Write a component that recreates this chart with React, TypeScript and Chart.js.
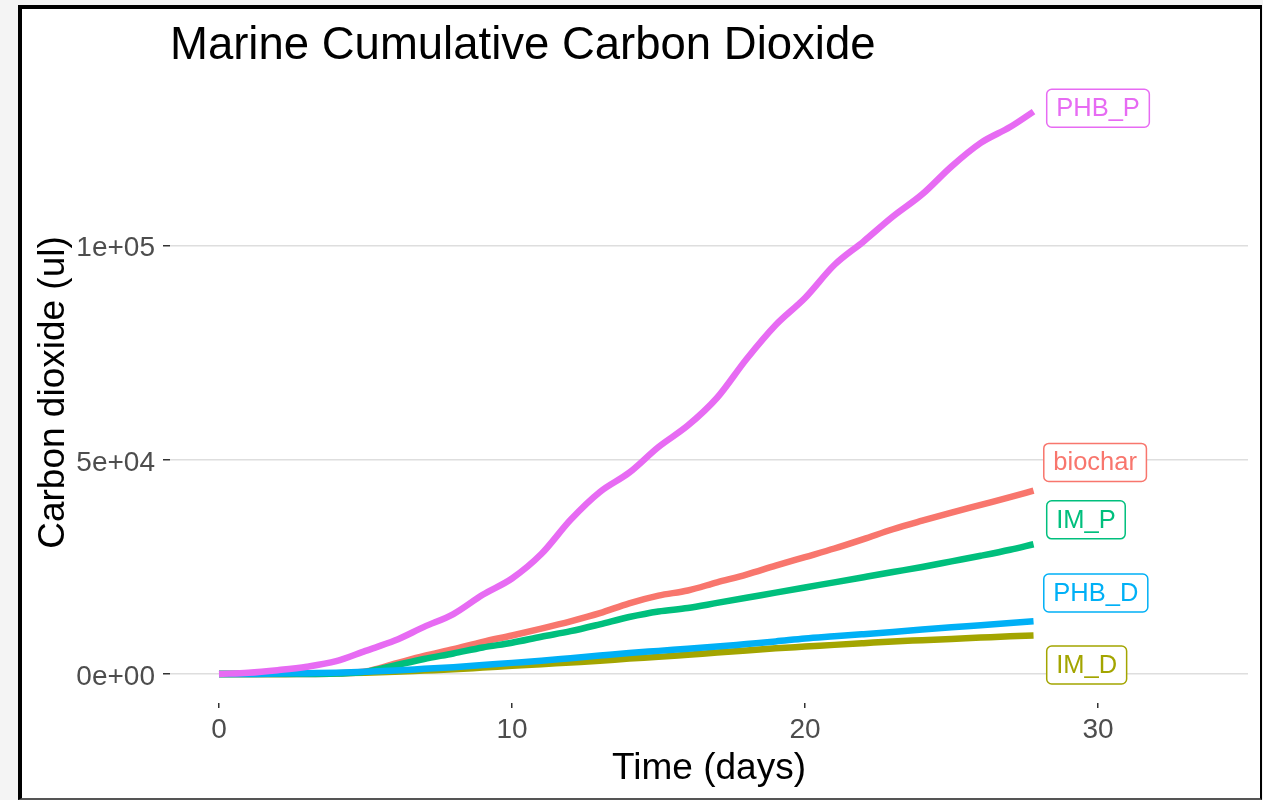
import React, { useEffect, useRef } from 'react';
import { Chart, registerables } from 'chart.js';

Chart.register(...registerables);

// ---- data ----
const days = [0, 1, 2, 3, 4, 5, 6, 7, 8, 9, 10, 11, 12, 13, 14, 15, 16, 17, 18, 19, 20, 21, 22, 23, 24, 25, 26, 27, 27.8];

const seriesNames = ['biochar', 'IM_D', 'IM_P', 'PHB_D', 'PHB_P'];

const biochar = [0, 0, 0, 0, 100, 600, 2400, 4200, 5800, 7500, 9000, 10600, 12300, 14200, 16500, 18300, 19500, 21400, 23200, 25300, 27300, 29300, 31500, 33800, 35800, 37700, 39500, 41300, 42800];
const IM_D = [0, 0, 0, 100, 200, 300, 500, 800, 1100, 1500, 1900, 2300, 2700, 3100, 3600, 4000, 4500, 5000, 5500, 6000, 6400, 6800, 7200, 7600, 7900, 8200, 8500, 8800, 9000];
const IM_P = [0, 0, 0, 0, 100, 500, 2000, 3500, 4800, 6200, 7300, 8700, 10000, 11600, 13300, 14600, 15400, 16600, 17800, 19000, 20200, 21400, 22600, 23800, 25000, 26300, 27600, 29000, 30300];
const PHB_D = [0, 0, 100, 200, 300, 500, 800, 1200, 1600, 2100, 2600, 3100, 3700, 4300, 4900, 5400, 5900, 6400, 7000, 7600, 8300, 8800, 9300, 9800, 10400, 10900, 11400, 11900, 12300];
const PHB_P = [0, 300, 900, 1700, 3000, 5400, 7800, 11000, 14000, 18500, 22300, 28000, 36000, 42500, 47000, 53000, 58000, 64500, 73500, 81500, 87800, 95500, 101000, 106800, 112000, 118500, 124000, 127700, 131300];

const seriesValues = [biochar, IM_D, IM_P, PHB_D, PHB_P];
const seriesColors = ['#F8766D', '#A3A500', '#00BF7D', '#00B0F6', '#E76BF3'];

// repelled end-label anchor positions (data units)
const labelX = [28.15, 28.25, 28.25, 28.15, 28.25];
const labelY = [49400, 2100, 36000, 18900, 132100];

const xTickValues = [0, 10, 20, 30];
const yTickValues = [0, 50000, 100000];
const yTickLabels = ['0e+00', '5e+04', '1e+05'];

const titleText = 'Marine Cumulative Carbon Dioxide';
const xTitle = 'Time (days)';
const yTitle = 'Carbon dioxide (ul)';

const FONT = '"Liberation Sans", Arial, Helvetica, sans-serif';

const annotatePlugin = {
  id: 'annotate',
  afterDatasetsDraw(chart: any) {
    const { ctx, scales } = chart;
    const xs = scales.x;
    const ys = scales.y;
    ctx.save();
    ctx.font = `25.5px ${FONT}`;
    ctx.textBaseline = 'middle';
    ctx.textAlign = 'left';
    for (let i = 0; i < seriesNames.length; i++) {
      const name = seriesNames[i];
      const color = seriesColors[i];
      const left = xs.getPixelForValue(labelX[i]);
      const cy = ys.getPixelForValue(labelY[i]);
      const tw = ctx.measureText(name).width;
      const padX = 9.5;
      const h = 38;
      const w = tw + padX * 2;
      const top = cy - h / 2;
      const r = 5;
      ctx.beginPath();
      ctx.moveTo(left + r, top);
      ctx.lineTo(left + w - r, top);
      ctx.arcTo(left + w, top, left + w, top + r, r);
      ctx.lineTo(left + w, top + h - r);
      ctx.arcTo(left + w, top + h, left + w - r, top + h, r);
      ctx.lineTo(left + r, top + h);
      ctx.arcTo(left, top + h, left, top + h - r, r);
      ctx.lineTo(left, top + r);
      ctx.arcTo(left, top, left + r, top, r);
      ctx.closePath();
      ctx.fillStyle = '#ffffff';
      ctx.fill();
      ctx.lineWidth = 1.5;
      ctx.strokeStyle = color;
      ctx.stroke();
      ctx.fillStyle = color;
      ctx.fillText(name, left + padX, cy + 1);
    }
    ctx.restore();
  },
  afterDraw(chart: any) {
    const { ctx, chartArea } = chart;
    ctx.save();
    // main title, left-aligned with the panel
    ctx.fillStyle = '#000000';
    ctx.font = `45.5px ${FONT}`;
    ctx.textAlign = 'left';
    ctx.textBaseline = 'alphabetic';
    ctx.fillText(titleText, chartArea.left, chartArea.top - 23);
    // x axis title
    ctx.font = `37px ${FONT}`;
    ctx.textAlign = 'center';
    ctx.textBaseline = 'middle';
    ctx.fillText(xTitle, (chartArea.left + chartArea.right) / 2, chartArea.bottom + 66);
    // y axis title
    ctx.translate(chartArea.left - 116, (chartArea.top + chartArea.bottom) / 2);
    ctx.rotate(-Math.PI / 2);
    ctx.fillText(yTitle, 0, 0);
    ctx.restore();
  },
};

function LineChart() {
  const ref = useRef<HTMLCanvasElement | null>(null);
  useEffect(() => {
    if (!ref.current) return;
    const datasets = seriesNames.map((name, i) => ({
      label: name,
      data: days.map((d, j) => ({ x: d, y: seriesValues[i][j] })),
      borderColor: seriesColors[i],
      backgroundColor: seriesColors[i],
      borderWidth: 6.5,
      borderCapStyle: 'butt' as const,
      borderJoinStyle: 'round' as const,
      pointRadius: 0,
      cubicInterpolationMode: 'monotone' as const,
      fill: false,
      order: seriesNames.length - i,
    }));
    const chart = new Chart(ref.current, {
      type: 'line',
      data: { datasets },
      options: {
        animation: false,
        responsive: false,
        maintainAspectRatio: false,
        devicePixelRatio: 1,
        layout: { padding: { left: 0, top: 82, right: 15, bottom: 0 } },
        plugins: {
          legend: { display: false },
          tooltip: { enabled: false },
          title: { display: false },
        },
        scales: {
          x: {
            type: 'linear',
            min: -1.672,
            max: 35.12,
            afterBuildTicks: (s: any) => {
              s.ticks = xTickValues.map((v) => ({ value: v }));
            },
            afterFit: (s: any) => {
              s.height = 97;
            },
            grid: { drawOnChartArea: false, color: '#333333', tickLength: 5, lineWidth: 1.5 },
            border: { display: false },
            ticks: {
              padding: 5,
              color: '#4d4d4d',
              font: { size: 28, family: FONT },
              maxRotation: 0,
              autoSkip: false,
              callback: (v: any) => String(v),
            },
          },
          y: {
            type: 'linear',
            min: -6770,
            max: 138220,
            afterBuildTicks: (s: any) => {
              s.ticks = yTickValues.map((v) => ({ value: v }));
            },
            afterFit: (s: any) => {
              s.width = 170;
            },
            grid: { color: '#dedede', lineWidth: 1.5, tickColor: '#333333', tickLength: 7, tickWidth: 1.5 },
            border: { display: false },
            ticks: {
              padding: 8,
              labelOffset: 3,
              color: '#4d4d4d',
              font: { size: 28, family: FONT },
              autoSkip: false,
              callback: (v: any) => {
                const k = yTickValues.indexOf(Number(v));
                return k >= 0 ? yTickLabels[k] : '';
              },
            },
          },
        },
      },
      plugins: [annotatePlugin],
    });
    return () => chart.destroy();
  }, []);
  return (
    <canvas
      ref={ref}
      width={1263}
      height={800}
      style={{ position: 'absolute', left: 0, top: 0, width: 1263, height: 800 }}
    />
  );
}

export default function App() {
  return (
    <div
      style={{
        position: 'fixed',
        left: 0,
        top: 0,
        width: 1263,
        height: 800,
        background: '#f4f4f4',
        overflow: 'hidden',
      }}
    >
      <div
        style={{
          position: 'absolute',
          left: 18,
          top: 5,
          width: 1244,
          height: 795,
          boxSizing: 'border-box',
          background: '#ffffff',
          borderLeft: '4px solid #000',
          borderTop: '4px solid #000',
          borderRight: '2px solid #000',
          borderBottom: '2px solid #555',
        }}
      />
      <LineChart />
    </div>
  );
}
